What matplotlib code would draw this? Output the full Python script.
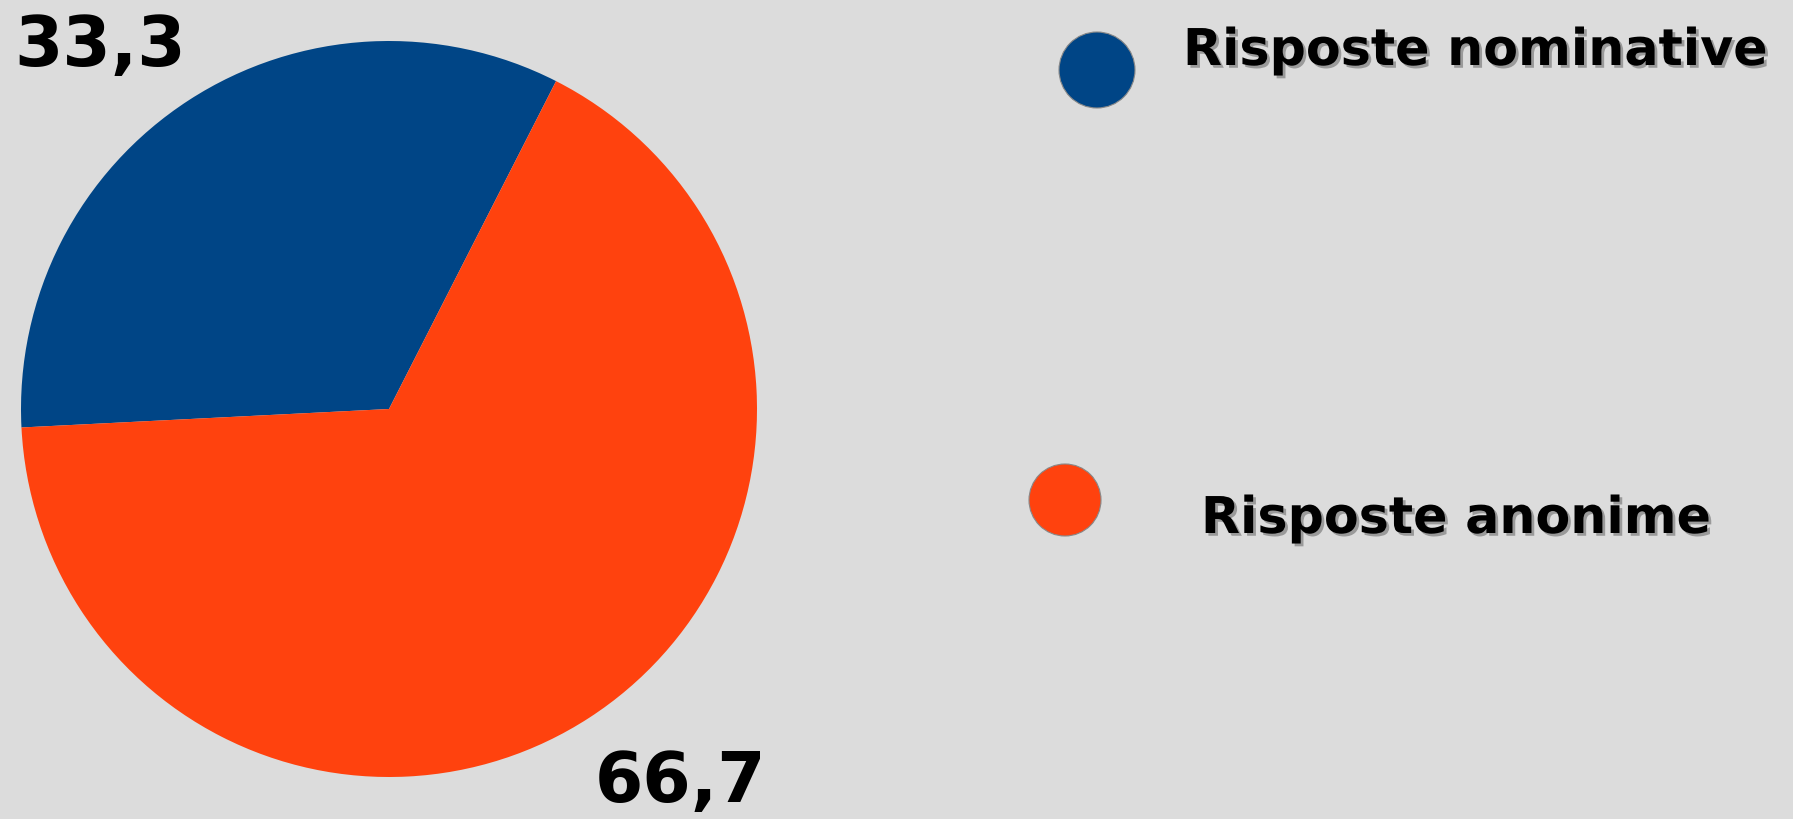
import numpy as np
import matplotlib.pyplot as plt
import matplotlib.patheffects as pe
from matplotlib.patches import Circle

# data
categories = ["Risposte nominative", "Risposte anonime"]
values = [33.3, 66.7]
value_labels = ["33,3", "66,7"]
colors = ["#004586", "#ff420e"]

W, H = 1793, 820
fig = plt.figure(figsize=(W / 100, H / 100), dpi=100)
fig.patch.set_facecolor("#dcdcdc")
ax = fig.add_axes([0, 0, 1, 1])

cx, cy, r = 389, H - 410, 368
ax.pie(values, colors=colors, startangle=63, counterclock=True,
       center=(cx, cy), radius=r, frame=True,
       wedgeprops=dict(linewidth=0))
ax.set_xlim(0, W)
ax.set_ylim(0, H)
ax.set_aspect("equal")
ax.axis("off")

font = dict(family="DejaVu Sans", weight="bold")
# value labels
ax.text(100, H - 46, value_labels[0], fontsize=50, ha="center", va="center", **font)
ax.text(680, H - 783, value_labels[1], fontsize=50, ha="center", va="center", **font)

# legend
shadow = [pe.withSimplePatchShadow(offset=(2, -2), shadow_rgbFace="#9a9a9a", alpha=1.0)]
leg_pos = [((1097, H - 71), 38, (1183, H - 52)),
           ((1065, H - 501), 36, (1201, H - 520))]
for (c, rad, tpos), lab, col in zip(leg_pos, categories, colors):
    ax.add_patch(Circle(c, rad, facecolor=col, edgecolor="#888888", linewidth=0.8))
    t = ax.text(tpos[0], tpos[1], lab, fontsize=36.5, ha="left", va="center", **font)
    t.set_path_effects(shadow)

fig.savefig("out.png", dpi=100, facecolor=fig.get_facecolor())
